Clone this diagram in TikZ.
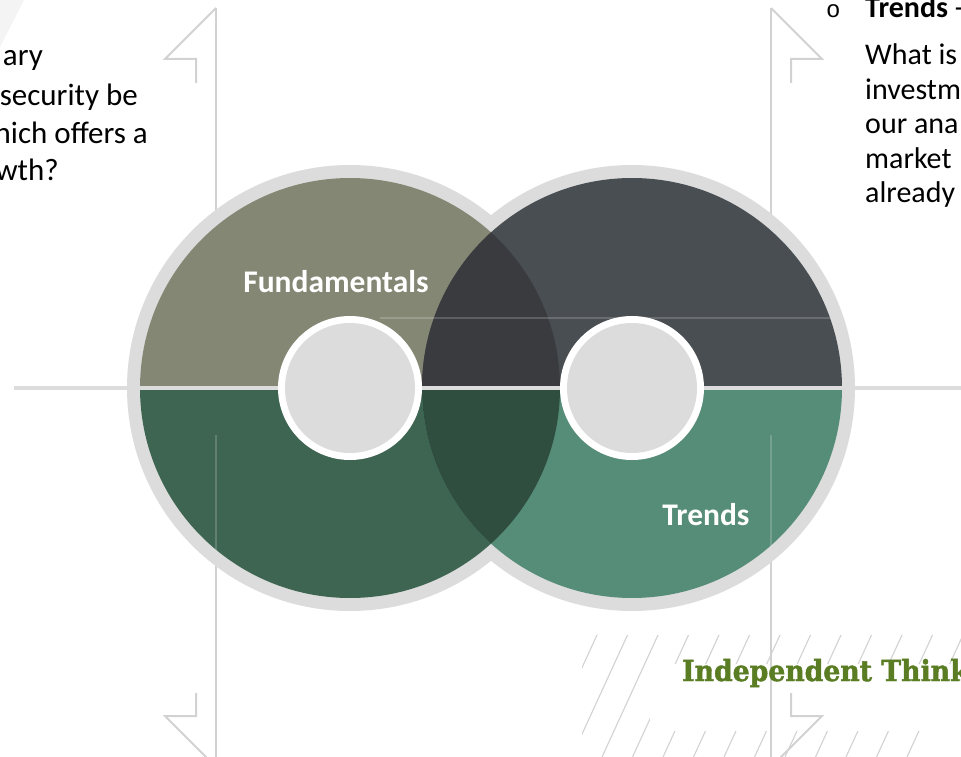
\documentclass[tikz,border=0pt]{standalone}
\usepackage{fontspec}
\setmainfont{Carlito}
\newfontfamily\slabfont{DejaVu Serif}[FakeStretch=0.92,FakeBold=1.6]
\newfontfamily\monofont{Liberation Mono}
\definecolor{ringgray}{HTML}{DCDCDC}
\definecolor{decogray}{HTML}{D2D2D2}
\definecolor{cornergray}{HTML}{F4F4F4}
\definecolor{oliveq}{HTML}{858775}
\definecolor{slateq}{HTML}{494E52}
\definecolor{greenq}{HTML}{3E6552}
\definecolor{tealq}{HTML}{568D78}
\definecolor{lenstop}{HTML}{3A3B3F}
\definecolor{lensbot}{HTML}{2F4E40}
\definecolor{slabgreen}{HTML}{5A7D24}
\tikzset{
  deco/.style={draw=decogray, line width=2pt},
  hatchline/.style={draw=decogray, line width=1.1pt},
  overlay line/.style={draw=white, draw opacity=0.18, line width=1.5pt},
  lefttext/.style={font=\fontsize{31}{37}\selectfont, text=black, inner sep=0pt},
  bodytext/.style={font=\fontsize{30}{35}\selectfont, text=black, inner sep=0pt},
  circlelabel/.style={font=\bfseries\fontsize{31.5}{36}\selectfont, text=white, inner sep=0pt},
}
\begin{document}
\begin{tikzpicture}[x=1pt,y=-1pt]
\useasboundingbox (0,0) rectangle (961,757);
\clip (0,0) rectangle (961,757);
\fill[white] (0,0) rectangle (961,757);
% corner shade
\fill[cornergray] (0,0) -- (24,0) -- (0,47) -- cycle;
% hatch field
\begin{scope}
  \clip (582,620) rectangle (961,757);
  \foreach \k in {0,...,12} {
    \draw[hatchline] ({597+30.5*\k},635) -- ({541+30.5*\k},757);
  }
\end{scope}
% band behind the slogan
\fill[white] (650,664) rectangle (961,731);
% background decorations
\coordinate (TL) at (216,8);
\coordinate (BL) at (216,767);
\coordinate (TR) at (771,8);
\coordinate (BR) at (771,767);
\draw[deco] (TL) -- (BL);
\draw[deco] (TR) -- (BR);
\draw[deco] (TL) -- (165,59) -- (196,59) -- (196,83);
\draw[deco] (BL) -- (165,716) -- (196,716) -- (196,693);
\draw[deco] (TR) -- (822,59) -- (791,59) -- (791,83);
\draw[deco] (BR) -- (822,716) -- (791,716) -- (791,693);
% centres
\coordinate (L) at (350,388);
\coordinate (R) at (632,388);
% outer rings
\fill[ringgray] (L) circle[radius=223];
\fill[ringgray] (R) circle[radius=223];
% upper halves
\begin{scope}
  \clip (0,0) rectangle (961,388);
  \fill[oliveq] (L) circle[radius=210];
  \fill[slateq] (R) circle[radius=210];
  \clip (L) circle[radius=210];
  \fill[lenstop] (R) circle[radius=210];
\end{scope}
% lower halves
\begin{scope}
  \clip (0,388) rectangle (961,757);
  \fill[greenq] (L) circle[radius=210];
  \fill[tealq] (R) circle[radius=210];
  \clip (L) circle[radius=210];
  \fill[lensbot] (R) circle[radius=210];
\end{scope}
% faint lines seen through the shapes
\draw[overlay line] (380,318) -- (830,318);
\begin{scope}
  \clip (L) circle[radius=210] (R) circle[radius=210];
  \draw[overlay line] (216,435) -- (216,757);
  \draw[overlay line] (771,435) -- (771,757);
\end{scope}
% axis line
\coordinate (AX0) at (14,388);
\coordinate (AX1) at (961,388);
\draw[draw=ringgray, line width=4.5pt] (AX0) -- (AX1);
% inner circles
\fill[white] (L) circle[radius=72];
\fill[ringgray] (L) circle[radius=65];
\fill[white] (R) circle[radius=72];
\fill[ringgray] (R) circle[radius=65];
% labels
\node[circlelabel] (fund) at (336,282) {Fundamentals};
\node[circlelabel] (trends) at (706,515) {Trends};
% left text
\node[lefttext, anchor=base east] (l1) at (43,66) {ary};
\node[lefttext, anchor=base east] (l2) at (138,106) {security be};
\node[lefttext, anchor=base east] (l3) at (148,143) {hich offers a};
\node[lefttext, anchor=base east] (l4) at (59,180) {wth?};
% right text
\node[inner sep=0pt, anchor=base west, font=\monofont\fontsize{24}{24}\selectfont] (bul) at (826,18) {o};
\node[bodytext, anchor=base west] (r0) at (865,18) {\textbf{Trends} -};
\node[bodytext, anchor=base west] (r1) at (865,65) {What is};
\node[bodytext, anchor=base west] (r2) at (865,100) {investm};
\node[bodytext, anchor=base west] (r3) at (865,134) {our ana};
\node[bodytext, anchor=base west] (r4) at (865,168) {market};
\node[bodytext, anchor=base west] (r5) at (865,202) {already};
% slogan
\node[inner sep=0pt, anchor=base west, text=slabgreen, font=\slabfont\bfseries\fontsize{29}{29}\selectfont] (slogan) at (682,681) {Independent Think};
\end{tikzpicture}
\end{document}
